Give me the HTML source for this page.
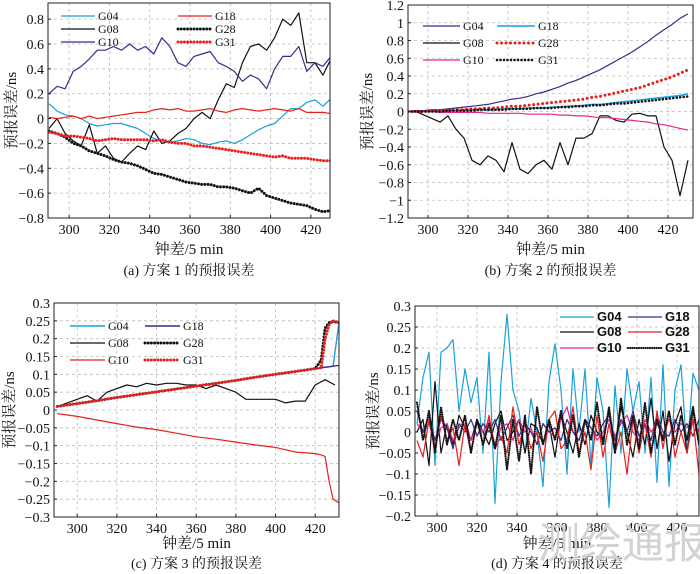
<!DOCTYPE html>
<html><head><meta charset="utf-8">
<style>
html,body{margin:0;padding:0;background:#fff;}
svg{display:block;}
text{font-family:"Liberation Serif","Noto Serif CJK SC",serif;fill:#111;}
</style></head>
<body>
<svg id="fig" width="700" height="574" viewBox="0 0 700 574" xmlns="http://www.w3.org/2000/svg"></svg>
<script>
// ---------- Panel (a) data ----------
const aX0 = 290, aStep = 4;
const aG04 = [0.12,0.06,0.03,0.02,0.0,-0.04,-0.06,-0.05,-0.04,-0.04,-0.06,-0.08,-0.12,-0.16,-0.18,-0.19,-0.18,-0.16,-0.17,-0.20,-0.21,-0.19,-0.18,-0.20,-0.17,-0.13,-0.09,-0.06,-0.04,0.02,0.08,0.08,0.13,0.15,0.10,0.16];
const aG08 = [-0.08,0.0,-0.12,-0.18,-0.22,-0.05,-0.28,-0.22,-0.32,-0.35,-0.28,-0.22,-0.25,-0.1,-0.2,-0.18,-0.12,-0.08,0.0,0.05,0.0,0.15,0.28,0.25,0.45,0.58,0.6,0.55,0.65,0.8,0.75,0.85,0.45,0.45,0.35,0.48];
const aG10 = [0.2,0.26,0.24,0.38,0.42,0.48,0.55,0.55,0.58,0.55,0.6,0.55,0.58,0.52,0.65,0.58,0.45,0.42,0.5,0.52,0.54,0.45,0.42,0.38,0.3,0.35,0.32,0.24,0.4,0.5,0.5,0.58,0.38,0.45,0.42,0.5];
const aG18 = [0.01,0.0,0.01,0.02,0.0,0.02,0.0,0.01,0.02,0.03,0.04,0.05,0.05,0.07,0.08,0.07,0.08,0.06,0.06,0.07,0.08,0.06,0.05,0.07,0.08,0.07,0.06,0.07,0.08,0.07,0.06,0.08,0.05,0.05,0.05,0.04];
const aG28 = [-0.1,-0.12,-0.15,-0.2,-0.22,-0.26,-0.28,-0.3,-0.33,-0.35,-0.36,-0.38,-0.41,-0.44,-0.45,-0.47,-0.49,-0.51,-0.52,-0.53,-0.53,-0.55,-0.55,-0.56,-0.58,-0.6,-0.56,-0.62,-0.64,-0.66,-0.68,-0.69,-0.7,-0.73,-0.75,-0.74];
const aG31 = [-0.11,-0.12,-0.14,-0.14,-0.15,-0.16,-0.18,-0.17,-0.16,-0.17,-0.17,-0.17,-0.17,-0.18,-0.17,-0.19,-0.2,-0.2,-0.22,-0.22,-0.23,-0.24,-0.25,-0.26,-0.27,-0.28,-0.29,-0.3,-0.31,-0.3,-0.32,-0.32,-0.32,-0.33,-0.34,-0.34];
const aYTicks = [0.8,0.6,0.4,0.2,0,-0.2,-0.4,-0.6,-0.8];
const aYLabels = ["0.8","0.6","0.4","0.2","0","\u22120.2","\u22120.4","\u22120.6","\u22120.8"];

// ---------- Panel (b) data ----------
const bX0 = 290, bStep = 4;
const bG04 = [0.0,0.01,0.01,0.02,0.02,0.03,0.04,0.05,0.06,0.07,0.08,0.1,0.12,0.14,0.15,0.17,0.2,0.22,0.25,0.28,0.32,0.35,0.39,0.43,0.47,0.52,0.57,0.62,0.67,0.73,0.79,0.86,0.92,0.98,1.05,1.10];
const bG18 = [0,0,0,0,0.01,0.01,0.01,0.01,0.02,0.02,0.02,0.02,0.03,0.03,0.03,0.04,0.04,0.04,0.05,0.05,0.06,0.06,0.07,0.08,0.08,0.09,0.1,0.11,0.12,0.13,0.14,0.15,0.16,0.17,0.18,0.2];
const bG28 = [0,0,0,0.01,0.01,0.01,0.02,0.02,0.03,0.03,0.04,0.04,0.05,0.06,0.06,0.07,0.08,0.09,0.1,0.11,0.12,0.13,0.14,0.16,0.17,0.19,0.21,0.23,0.25,0.27,0.3,0.33,0.36,0.39,0.43,0.47];
const bG31 = [0,0,0,0,0,0.01,0.01,0.01,0.01,0.02,0.02,0.02,0.02,0.03,0.03,0.03,0.04,0.04,0.04,0.05,0.05,0.06,0.06,0.07,0.07,0.08,0.09,0.09,0.1,0.11,0.12,0.13,0.14,0.15,0.16,0.17];
const bG10 = [0,0,0,0,-0.01,-0.01,-0.01,-0.01,-0.01,-0.01,-0.02,-0.02,-0.02,-0.02,-0.02,-0.03,-0.03,-0.03,-0.03,-0.04,-0.04,-0.05,-0.05,-0.06,-0.07,-0.07,-0.08,-0.09,-0.1,-0.11,-0.12,-0.14,-0.15,-0.17,-0.19,-0.21];
const bG08 = [0,0,-0.04,-0.08,-0.12,-0.05,-0.2,-0.3,-0.55,-0.6,-0.5,-0.55,-0.68,-0.35,-0.65,-0.7,-0.6,-0.55,-0.65,-0.35,-0.6,-0.3,-0.3,-0.25,-0.05,-0.05,-0.1,-0.12,-0.03,-0.02,-0.05,-0.05,-0.4,-0.55,-0.95,-0.55];
const bYTicks = [1.2,1,0.8,0.6,0.4,0.2,0,-0.2,-0.4,-0.6,-0.8,-1,-1.2];
const bYLabels = ["1.2","1","0.8","0.6","0.4","0.2","0","\u22120.2","\u22120.4","\u22120.6","\u22120.8","\u22121","\u22121.2"];

// ---------- Panel (c) data ----------
const cX = [290,300,310,320,330,340,350,360,370,380,390,400,410,420,423,425,427,429,432];
const cG18 = [0.01,0.018,0.026,0.035,0.043,0.051,0.059,0.067,0.075,0.083,0.092,0.1,0.108,0.116,0.118,0.12,0.121,0.123,0.125];
const cG04 = [0.01,0.018,0.026,0.035,0.043,0.051,0.059,0.067,0.075,0.083,0.092,0.1,0.108,0.116,0.118,0.12,0.121,0.123,0.245];
const cG28 = [0.01,0.018,0.026,0.035,0.043,0.051,0.059,0.067,0.075,0.083,0.092,0.1,0.108,0.116,0.14,0.23,0.245,0.248,0.245];
const cG31 = [0.01,0.018,0.026,0.035,0.043,0.051,0.059,0.067,0.075,0.083,0.092,0.1,0.108,0.116,0.118,0.2,0.24,0.25,0.245];
const cG10 = [-0.01,-0.018,-0.028,-0.038,-0.048,-0.055,-0.065,-0.075,-0.082,-0.09,-0.098,-0.105,-0.118,-0.122,-0.126,-0.13,-0.2,-0.25,-0.26];
const cX08 = [290,295,300,305,310,315,320,325,330,335,340,345,350,355,360,365,370,375,380,385,390,395,400,405,410,415,420,425,430];
const cG08 = [0.01,0.02,0.03,0.04,0.025,0.05,0.06,0.07,0.065,0.075,0.07,0.075,0.075,0.07,0.07,0.06,0.07,0.06,0.05,0.03,0.03,0.03,0.03,0.02,0.025,0.025,0.07,0.085,0.07];
const cYTicks = [0.3,0.25,0.2,0.15,0.1,0.05,0,-0.05,-0.1,-0.15,-0.2,-0.25,-0.3];
const cYLabels = ["0.3","0.25","0.2","0.15","0.1","0.05","0","\u22120.05","\u22120.1","\u22120.15","\u22120.2","\u22120.25","\u22120.3"];

// ---------- Panel (d) data ----------
const dX0 = 290, dStep = 3;
const dG04 = [0.02,0.13,0.19,-0.08,0.19,0.2,0.22,0.05,0.15,0.07,0.13,-0.05,0.19,-0.17,0.12,0.28,0.1,0.05,-0.05,0.08,0.0,-0.13,0.12,0.21,0.1,-0.1,0.15,0.0,0.15,-0.08,0.13,0.05,-0.18,0.11,-0.05,0.15,0.05,0.12,-0.05,0.13,-0.12,0.16,-0.13,0.1,0.16,-0.05,0.14,0.1];
const dG08 = [0.0,0.03,-0.08,0.12,-0.05,0.02,-0.03,0.04,0.01,-0.02,0.03,0.0,-0.03,0.02,0.05,-0.02,0.0,0.03,-0.05,0.02,0.01,-0.03,0.02,-0.06,0.04,0.0,-0.05,0.02,-0.03,0.04,0.0,-0.02,0.05,-0.04,0.06,0.0,-0.06,0.03,-0.03,0.08,-0.04,0.05,-0.07,0.02,0.06,-0.05,0.05,-0.03];
const dG18 = [0.05,0.0,0.04,-0.02,0.03,0.01,-0.04,0.02,0.0,0.03,-0.01,0.02,0.0,0.03,-0.02,0.01,0.04,-0.01,0.02,0.0,-0.03,0.02,0.0,0.01,-0.02,0.03,0.0,-0.02,0.03,0.01,-0.01,0.02,0.04,-0.02,0.03,0.0,0.05,-0.01,0.02,-0.02,0.04,0.0,-0.01,0.03,0.0,0.02,-0.01,0.03];
const dG28 = [-0.02,-0.06,0.03,-0.04,0.04,-0.02,0.01,-0.08,0.02,-0.05,0.03,-0.03,0.04,-0.04,-0.01,-0.05,0.06,-0.03,0.02,-0.04,0.0,-0.07,0.03,0.05,-0.04,-0.02,0.06,-0.05,0.0,-0.09,0.04,-0.06,0.02,-0.05,0.0,-0.1,0.03,-0.05,0.02,-0.06,0.05,-0.04,0.05,-0.06,0.0,-0.05,0.03,-0.1];
const dG10 = [0.02,0.0,0.02,-0.03,0.01,0.02,-0.02,0.01,0.03,-0.02,0.02,0.0,0.03,-0.03,0.01,0.02,-0.02,0.03,0.0,0.01,-0.03,0.02,0.0,-0.01,0.03,0.06,0.0,-0.02,0.03,0.01,-0.02,0.0,0.03,-0.01,0.02,0.04,0.0,-0.02,0.03,0.0,0.02,-0.01,0.03,0.0,0.02,0.01,0.03,0.0];
const dG31 = [0.07,-0.02,0.05,-0.05,0.06,-0.03,0.03,-0.02,0.04,-0.05,0.03,-0.03,0.02,-0.04,0.04,-0.09,0.03,-0.07,0.04,-0.1,0.06,-0.03,0.03,-0.02,0.05,-0.04,0.04,-0.06,0.03,-0.02,0.07,-0.03,0.06,-0.05,0.08,-0.03,0.04,-0.04,0.07,-0.05,0.03,-0.02,0.05,-0.03,0.04,-0.02,0.06,-0.03];
const dYTicks = [0.3,0.25,0.2,0.15,0.1,0.05,0,-0.05,-0.1,-0.15,-0.2];
const dYLabels = ["0.3","0.25","0.2","0.15","0.1","0.05","0","\u22120.05","\u22120.1","\u22120.15","\u22120.2"];

const xTicks = [300,320,340,360,380,400,420];

const NS = "http://www.w3.org/2000/svg";
const fig = document.getElementById("fig");
function mk(tag, attrs, parent){
  const e = document.createElementNS(NS, tag);
  for (const k in attrs) e.setAttribute(k, attrs[k]);
  (parent||fig).appendChild(e);
  return e;
}
function seqX(x0, step, n){ const r=[]; for(let i=0;i<n;i++) r.push(x0+i*step); return r; }

function panel(p){
  const g = mk("g", {});
  
  
  const L=p.box[0], T=p.box[1], R=p.box[2], B=p.box[3];
  const sx = v => L + (v - p.xmin) / (p.xmax - p.xmin) * (R - L);
  const sy = v => T + (p.ymax - v) / (p.ymax - p.ymin) * (B - T);
  const clipId = "clip-" + p.id;
  const cp = mk("clipPath", {id: clipId}, g);
  mk("rect", {x:L, y:T, width:R-L, height:B-T}, cp);
  const grid = mk("g", {stroke:"#bbb", "stroke-width":"0.8", "stroke-dasharray":"3 3"}, g);
  
  
  xTicks.forEach(t => mk("line", {x1:sx(t), x2:sx(t), y1:T, y2:B}, grid));
  p.yTicks.forEach(t => mk("line", {x1:L, x2:R, y1:sy(t), y2:sy(t)}, grid));
  const sg = mk("g", {"clip-path":"url(#"+clipId+")"}, g);
  p.series.forEach(s => {
    const d = s.x.map((xv,i) => (i?"L":"M") + sx(xv).toFixed(1) + " " + sy(s.y[i]).toFixed(1)).join(" ");
    const path = mk("path", {d:d, fill:"none", stroke:s.color, "stroke-width":s.w||1.2,
      "stroke-linejoin":"round", "stroke-linecap": s.dot ? "round":"butt"}, sg);
    if (s.dot) path.setAttribute("stroke-dasharray", s.dot);
    
    
  });
  const fr = mk("rect", {x:L, y:T, width:R-L, height:B-T, fill:"none", stroke:"#222", "stroke-width":"1"}, g);
  
  
  const xt = mk("g", {}, g);
  
  
  xTicks.forEach(t => {
    mk("line", {x1:sx(t), x2:sx(t), y1:B, y2:B-3, stroke:"#222"}, xt);
    const tx = mk("text", {x:sx(t), y:B+16, "text-anchor":"middle", "font-size":"14"}, xt);
    tx.textContent = t;
  });
  const yt = mk("g", {}, g);
  
  
  p.yTicks.forEach((t,i) => {
    mk("line", {x1:L, x2:L+3, y1:sy(t), y2:sy(t), stroke:"#222"}, yt);
    const tx = mk("text", {x:L-4, y:sy(t)+5, "text-anchor":"end", "font-size":"14"}, yt);
    tx.textContent = p.yLabels[i];
  });
  const xl = mk("text", {x:(L+R)/2, y:p.xlabY, "text-anchor":"middle", "font-size":"15"}, g);
  xl.textContent = "钟差/5 min";
  
  
  const yl = mk("text", {x:0, y:0, "text-anchor":"middle", "font-size":"15",
    transform:"translate("+p.ylabX+","+((T+B)/2)+") rotate(-90)"}, g);
  yl.textContent = "预报误差/ns";
  
  
  const cap = mk("text", {x:(L+R)/2, y:p.capY, "text-anchor":"middle", "font-size":"14"}, g);
  cap.textContent = p.caption;
  
  
  const lg = mk("g", {}, g);
  
  
  p.legend.forEach(e => {
    const s = p.series.find(q => q.name === e.name);
    const ln = mk("line", {x1:e.x, x2:e.x+e.len, y1:e.y, y2:e.y, stroke:s.color, "stroke-width":s.w||1.2,
      "stroke-linecap": s.dot?"round":"butt"}, lg);
    if (s.dot) ln.setAttribute("stroke-dasharray", s.dot);
    
    
    const tx = mk("text", {x:e.x+e.len+3, y:e.y+4, "font-size":e.fs||12}, lg);
    if (e.bold) { tx.setAttribute("font-weight","bold"); tx.setAttribute("style","font-family:'Liberation Sans',sans-serif"); }
    tx.textContent = s.name;
    
    
  });
}

const CY="#1aa0dc", PU="#3b2a8c", RD="#e8201c", BK="#111", PK="#e8278c";
const DOT="0 3.2";

const ax = seqX(aX0, aStep, aG04.length);
panel({id:"a", box:[48,3,330,218], xmin:289.5, xmax:429.5, ymin:-0.8, ymax:0.93,
  yTicks:aYTicks, yLabels:aYLabels, xlabY:254, ylabX:16, capY:275, caption:"(a) 方案 1 的预报误差",
  series:[
    {name:"G04", x:ax, y:aG04, color:CY},
    {name:"G08", x:ax, y:aG08, color:BK},
    {name:"G10", x:ax, y:aG10, color:PU},
    {name:"G18", x:ax, y:aG18, color:RD},
    {name:"G28", x:ax, y:aG28, color:BK, w:3, dot:DOT},
    {name:"G31", x:ax, y:aG31, color:RD, w:3, dot:DOT}],
  legend:[{name:"G04",x:61,y:16,len:34},{name:"G08",x:61,y:29,len:34},{name:"G10",x:61,y:42,len:34},
          {name:"G18",x:178,y:16,len:34},{name:"G28",x:178,y:29,len:34},{name:"G31",x:178,y:42,len:34}]
});

const bx = seqX(bX0, bStep, bG04.length);
panel({id:"b", box:[408,5,693,218], xmin:290, xmax:432.5, ymin:-1.2, ymax:1.2,
  yTicks:bYTicks, yLabels:bYLabels, xlabY:254, ylabX:372, capY:275, caption:"(b) 方案 2 的预报误差",
  series:[
    {name:"G04", x:bx, y:bG04, color:PU},
    {name:"G08", x:bx, y:bG08, color:BK},
    {name:"G10", x:bx, y:bG10, color:PK},
    {name:"G18", x:bx, y:bG18, color:CY, w:1.6},
    {name:"G28", x:bx, y:bG28, color:RD, w:3, dot:"0 4.5"},
    {name:"G31", x:bx, y:bG31, color:BK, w:2.6, dot:"0 3.5"}],
  legend:[{name:"G04",x:423,y:26,len:37},{name:"G08",x:423,y:43,len:37},{name:"G10",x:423,y:60,len:37},
          {name:"G18",x:497,y:26,len:38},{name:"G28",x:497,y:43,len:38},{name:"G31",x:497,y:60,len:38}]
});

panel({id:"c", box:[54,303,339,517], xmin:288.3, xmax:432, ymin:-0.3, ymax:0.3,
  yTicks:cYTicks, yLabels:cYLabels, xlabY:548, ylabX:14, capY:568, caption:"(c) 方案 3 的预报误差",
  series:[
    {name:"G04", x:cX, y:cG04, color:CY, w:1.4},
    {name:"G08", x:cX08, y:cG08, color:BK},
    {name:"G10", x:cX, y:cG10, color:RD},
    {name:"G18", x:cX, y:cG18, color:PU, w:1.4},
    {name:"G28", x:cX, y:cG28, color:BK, w:3, dot:DOT},
    {name:"G31", x:cX, y:cG31, color:RD, w:3, dot:DOT}],
  legend:[{name:"G04",x:70,y:326,len:35},{name:"G08",x:70,y:343,len:35},{name:"G10",x:70,y:360,len:35},
          {name:"G18",x:145,y:326,len:35},{name:"G28",x:145,y:343,len:35},{name:"G31",x:145,y:360,len:35}]
});

const dx = seqX(dX0, dStep, dG04.length);
panel({id:"d", box:[415,306,699,516], xmin:289, xmax:431, ymin:-0.2, ymax:0.3,
  yTicks:dYTicks, yLabels:dYLabels, xlabY:548, ylabX:378, capY:568, caption:"(d) 方案 4 的预报误差",
  series:[
    {name:"G04", x:dx, y:dG04, color:CY},
    {name:"G08", x:dx, y:dG08, color:BK},
    {name:"G10", x:dx, y:dG10, color:PK},
    {name:"G18", x:dx, y:dG18, color:PU},
    {name:"G28", x:dx, y:dG28, color:RD},
    {name:"G31", x:dx, y:dG31, color:BK, w:2.2, dot:"0 2.2"}],
  legend:[{name:"G04",x:560,y:317,len:34,bold:true,fs:13},{name:"G08",x:560,y:332,len:34,bold:true,fs:13},{name:"G10",x:560,y:348,len:34,bold:true,fs:13},
          {name:"G18",x:628,y:317,len:34,bold:true,fs:13},{name:"G28",x:628,y:332,len:34,bold:true,fs:13},{name:"G31",x:628,y:348,len:34,bold:true,fs:13}]
});

const wm = mk("text", {x:622, y:558, "text-anchor":"middle", "font-size":"42",
  style:"fill:#d2d2d2;font-family:'Liberation Sans','Noto Sans CJK SC',sans-serif"});
wm.textContent = "测绘通报";


</script>
</body></html>
